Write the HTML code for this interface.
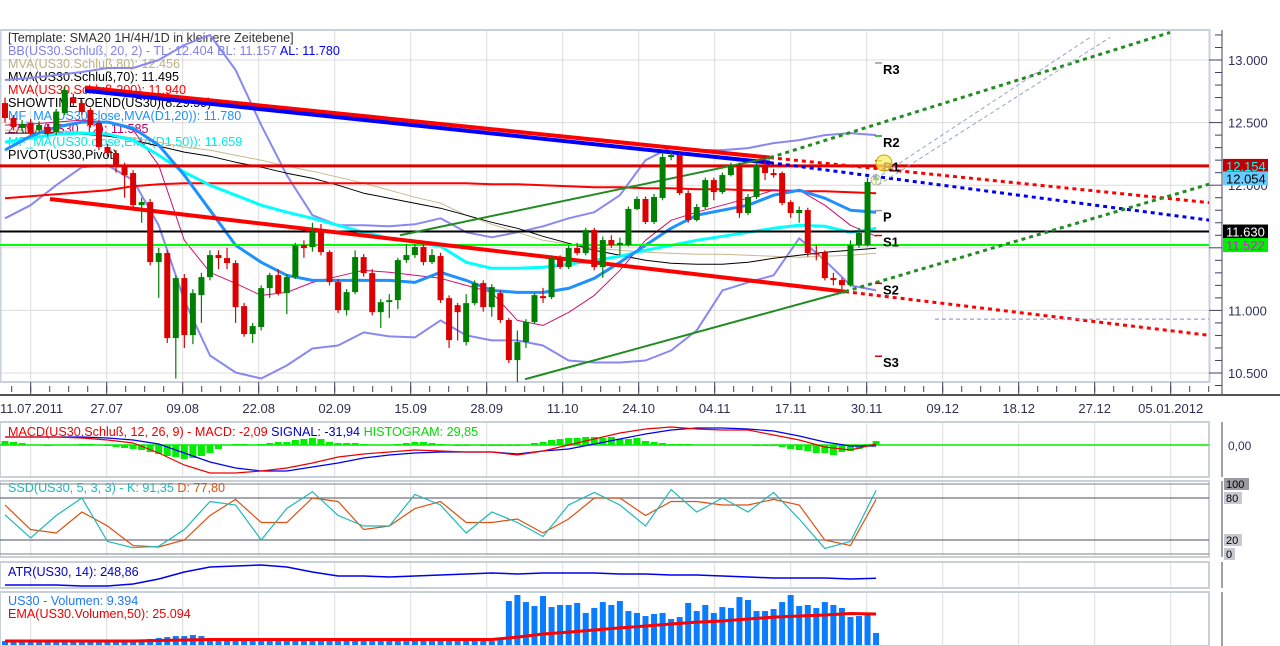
<!DOCTYPE html>
<html><head><meta charset="utf-8"><style>
html,body{margin:0;padding:0;background:#fff;width:1280px;height:646px;overflow:hidden}
svg{display:block;font-family:"Liberation Sans","DejaVu Sans",sans-serif}
</style></head><body>
<svg id="chart" width="1280" height="646" viewBox="0 0 1280 646" xmlns="http://www.w3.org/2000/svg"></svg>
<script>
// ---------- DATA ----------
const dateLabels = ["11.07.2011","27.07","09.08","22.08","02.09","15.09","28.09","11.10","24.10","04.11","17.11","30.11","09.12","18.12","27.12","05.01.2012"];
const priceTicks = [13000,12500,11000,10500];
const openP  = [12656,12537,12457,12497,12441,12465,12425,12577,12704,12656,12600,12497,12305,12257,12161,12097,11841,11865,11386,11458,10779,11258,10803,11122,11266,11442,11418,11378,11034,10811,10867,11178,11282,11138,11266,11522,11506,11626,11466,11226,11002,11146,11426,11298,10986,11066,11082,11402,11442,11506,11386,11434,11098,11042,10747,11058,11218,11026,11138,10923,10603,10747,10907,11114,11106,11418,11346,11498,11458,11642,11346,11562,11522,11522,11810,11890,11706,11898,12225,12241,11937,11722,11826,12041,11945,12081,12161,11778,11906,12145,12097,12097,11865,11778,11802,11458,11466,11258,11242,11202,11522,11522,12041];
const closeP = [12537,12465,12489,12417,12481,12417,12585,12760,12656,12585,12481,12305,12257,12161,12081,11841,11865,11386,11458,10779,11258,10803,11138,11266,11442,11418,11378,11026,10811,10875,11178,11282,11138,11266,11522,11498,11626,11466,11226,11002,11146,11426,11298,10986,11066,11082,11402,11442,11506,11386,11442,11082,10763,10986,11058,11218,11026,11186,10923,10603,10747,10907,11122,11098,11418,11346,11498,11458,11642,11346,11562,11522,11540,11810,11890,11706,11906,12225,12241,11937,11722,11826,12041,11945,12081,12161,11778,11906,12161,12097,12081,11858,11778,11802,11458,11450,11258,11242,11202,11522,11618,12025,12057];
const highP  = [12700,12560,12520,12530,12510,12490,12610,12790,12730,12680,12620,12520,12330,12280,12180,12120,11900,11890,11500,11480,11280,11290,11170,11300,11480,11480,11500,11400,11060,10900,11200,11300,11330,11290,11540,11560,11700,11690,11480,11250,11170,11480,11450,11330,11090,11130,11420,11530,11530,11530,11490,11460,11120,11060,11130,11240,11240,11210,11160,10940,10840,10930,11140,11180,11440,11440,11520,11540,11660,11660,11590,11600,11580,11830,11910,11910,11930,12260,12270,12260,11960,11850,12060,12060,12100,12180,12180,11930,12180,12240,12130,12110,11880,11830,11820,11520,11480,11300,11260,11560,11660,12060,12090];
const lowP   = [12500,12440,12430,12400,12420,12390,12400,12560,12630,12560,12460,12280,12230,12100,11900,11820,11700,11360,11100,10740,10456,10700,10730,10900,11240,11330,11330,10900,10790,10740,10840,11100,11120,10970,11250,11420,11470,11440,11200,10980,10960,11130,11270,10960,10860,10940,11010,11380,11420,11360,11370,11060,10700,10760,10720,11040,10990,10950,10900,10580,10424,10700,10890,11060,11090,11330,11330,11440,11440,11320,11260,11500,11440,11510,11800,11690,11690,11880,12200,11920,11700,11710,11810,11880,11930,12070,11740,11760,11890,12040,12060,11840,11740,11700,11430,11400,11240,11200,11170,11190,11500,11510,12010];
// indicator series sampled every 3 candles
const bbUpper = [12840,12856,12880,12904,12936,12936,13000,13120,13200,12920,12480,12080,11760,11680,11680,11672,11688,11736,11624,11584,11624,11672,11736,11784,11920,12200,12304,12280,12280,12296,12336,12360,12400,12416,12400];
const bbLower = [11736,11840,12000,12144,12160,12040,11680,11080,10640,10504,10456,10560,10696,10720,10824,10792,10784,10920,10800,10760,10760,10720,10600,10584,10584,10600,10680,10840,11160,11224,11280,11576,11400,11200,11160];
const ma20D1  = [12280,12392,12464,12504,12504,12456,12320,12080,11800,11520,11384,11280,11240,11240,11240,11240,11224,11304,11240,11160,11144,11144,11176,11256,11384,11520,11656,11760,11800,11840,11920,11960,11896,11800,11784];
const ema50D1 = [12344,12376,12408,12416,12408,12360,12240,12104,12000,11920,11840,11784,11736,11680,11624,11576,11544,11512,11384,11336,11336,11344,11368,11400,11432,11480,11520,11560,11592,11624,11656,11680,11672,11624,11656];
const mva70   = [12416,12416,12416,12408,12392,12360,12312,12264,12232,12184,12144,12096,12056,12000,11936,11896,11856,11816,11760,11704,11656,11592,11536,11480,11440,11400,11376,11368,11368,11384,11416,11440,11464,11480,11496];
const mva80   = [12440,12440,12432,12424,12408,12376,12344,12304,12280,12240,12200,12152,12112,12064,12016,11960,11904,11856,11760,11688,11624,11560,11528,11496,11480,11464,11456,11448,11448,11440,11432,11424,11432,11440,11456];
const mva200  = [11896,11912,11928,11944,11960,11992,12008,12016,12016,12016,12016,12016,12016,12016,12016,12016,12016,12016,12016,12008,12008,12000,11992,11984,11984,11976,11976,11968,11968,11960,11960,11952,11952,11944,11936];
const zama12  = [12480,12488,12504,12520,12504,12440,12160,11560,11304,11216,11120,11144,11224,11272,11320,11304,11280,11256,11200,11144,10920,10880,10984,11120,11320,11560,11720,11784,11840,11896,11960,11960,11840,11680,11592];
const macdLine   = [64,64,64,56,40,16,-64,-160,-224,-224,-208,-184,-144,-96,-72,-56,-40,-48,-56,-56,-80,-48,0,48,96,128,144,128,120,120,80,40,-16,-40,8];
const signalLine = [64,64,64,64,56,40,8,-64,-136,-184,-208,-208,-176,-144,-104,-80,-64,-56,-56,-56,-72,-48,-32,8,48,88,120,136,136,128,112,72,24,-8,-8];
const histogram  = [32,24,16,0,0,-8,0,0,0,8, 8,0,-8,-16,-24,-32,-40,-56,-72,-88, -96,-112,-104,-88,-64,-32,0,8,8,0, 8,16,24,24,40,48,56,48,24,16, 16,16,8,0,0,0,8,16,24,24, 16,8,0,-8,-8,0,-8,-8,-8,-8, -8,0,16,24,40,48,56,56,64,64, 56,64,48,48,56,32,24,16,8,8, 8,0,0,0,0,0,0,0,-8,-8, -8,-16,-32,-40,-48,-64,-64,-80,-56,-48, -32,8,32];
const stochK = [56,23,55,80,18,9,11,35,75,70,20,65,89,55,40,40,85,70,30,60,45,25,70,88,70,40,92,60,80,60,88,50,8,18,91];
const stochD = [70,35,30,60,40,12,10,20,55,78,45,45,80,75,35,40,65,75,45,45,50,30,50,80,80,55,75,75,70,70,78,70,20,12,78];
const atr = [127,127,127,109,109,145,236,364,455,473,491,455,364,291,291,273,291,309,327,345,327,345,345,345,327,327,309,309,291,273,255,255,255,236,249];
const volume = [3.1,3.1,3.1,3.1,3.1,3.1,3.1,3.1,3.1,3.1,3.1,3.1,3.1,3.1,3.1,3.1,3.9,4.7,5.5,6.2,7.0,7.0,7.8,7.0,4.7,3.9,3.1,4.7,3.9,3.1,3.1,3.1,3.1,3.1,3.1,3.1,3.1,3.1,3.1,3.1,3.9,3.9,3.1,3.1,4.7,5.5,3.1,3.1,3.9,3.1,3.1,3.9,3.1,3.1,3.9,3.1,3.1,3.1,4.7,
34.3,39.0,33.5,30.4,38.2,29.6,31.2,31.2,32.8,25.0,28.9,33.5,31.2,34.3,26.5,25.0,22.6,24.2,25.0,20.3,21.8,32.8,26.5,31.2,25.0,29.6,28.9,37.4,35.1,26.5,26.5,28.1,33.5,39.0,30.4,31.2,28.9,33.5,31.2,28.9,21.8,22.6,24.2,9.4];
const volEma = [3.1,3.1,3.1,3.1,3.1,3.1,3.5,3.9,4.3,4.3,4.3,4.3,4.3,4.3,4.3,4.3,4.3,4.3,4.3,4.3,6.2,8.6,10.1,11.7,13.3,14.8,16.4,17.9,18.7,20.3,21.8,22.6,23.4,24.6,24.2];
const pivotNames = ["R3","R2","R1","P","S1","S2","S3"];
const pivotVals  = [12976,12393,12196,11797,11598,11216,10634];
const pivotColors = ["#999","#0a0","#0a0","#999","#d00","#d00","#d00"];

// ---------- AXES ----------
const NS="http://www.w3.org/2000/svg";
const svg=document.getElementById('chart');
function el(tag,attrs,parent){const e=document.createElementNS(NS,tag);for(const k in attrs)e.setAttribute(k,attrs[k]);(parent||svg).appendChild(e);return e;}
const xC=i=>5+i*8.54;
const xS=k=>xC(k*3);
const xD=k=>30.7+76*k;
const yP=p=>60+(13000-p)*0.1252;
const yM=v=>445-v/8;
const yK=v=>554-v*0.7;
const yA=v=>592-v*0.055;
const yV=v=>645-v/0.78;
const PLOT_R=1209;

const defs=el('defs',{});
const cp=el('clipPath',{id:'mainclip'},defs);el('rect',{x:0,y:30,width:PLOT_R,height:352},cp);

const gMain=el('g',{});

dateLabels.forEach((d,k)=>{
  const l=el('line',{x1:xD(k),x2:xD(k),y1:30,y2:382,stroke:'#dcdcdc','stroke-width':1},gMain);
  
});
[13000,12500,12000,11500,11000,10500].forEach(p=>{
  const l=el('line',{x1:0,x2:PLOT_R,y1:yP(p),y2:yP(p),stroke:'#dcdcdc','stroke-width':1},gMain);
  
});
const frame=el('rect',{x:0.5,y:30,width:PLOT_R,height:352,fill:'none',stroke:'#c8d0dc','stroke-width':2});


const legend=[
 [["[Template: SMA20 1H/4H/1D in kleinere Zeitebene]","#333"]],
 [["BB(US30.Schluß, 20, 2) -  TL: 12.404  BL: 11.157  ","#8080ee"],["AL: 11.780","#0000ff"]],
 [["MVA(US30.Schluß,80): 12.456","#bbb080"]],
 [["MVA(US30.Schluß,70): 11.495","#000"]],
 [["MVA(US30.Schluß,200): 11.940","#f00"]],
 [["SHOWTIMETOEND(US30)(8:29:59)","#000"]],
 [["MF_MA(US30.close,MVA(D1,20)): 11.780","#1e90ff"]],
 [["ZAMA(US30, 12): 11.585","#c00060"]],
 [["MF_MA(US30.close,EMA(D1,50)): 11.659","#00e8e8"]],
 [["PIVOT(US30,Pivot)","#000"]]
];
legend.forEach((parts,i)=>{
  const t=el('text',{x:8,y:42+i*13,'font-size':12.6});
  
  parts.forEach(p=>{const s=el('tspan',{fill:p[1]},t);s.textContent=p[0];});
});

const gPlot=el('g',{'clip-path':'url(#mainclip)'});

function series(arr,color,w,name){
  const pts=arr.map((v,k)=>xS(k).toFixed(1)+','+yP(v).toFixed(1)).join(' ');
  const pl=el('polyline',{points:pts,fill:'none',stroke:color,'stroke-width':w,'stroke-linejoin':'round'},gPlot);
  
}
series(bbUpper,'#8888f0',2,'bollinger-upper');
series(bbLower,'#8888f0',2,'bollinger-lower');
series(mva80,'#c8b890',1,'mva-80-line');
series(mva70,'#000',1,'mva-70-line');
series(mva200,'#f00',2,'mva-200-line');
series(zama12,'#d01070',1,'zama-line');
series(ema50D1,'#00ffff',3,'ema-50-d1-line');
series(ma20D1,'#1e90ff',3,'mva-20-d1-line');

[[12154,'#e00000',3,'level-12154'],[11630,'#000',2,'level-11630'],[11522,'#00ff00',2,'level-11522']].forEach(h=>{
  const l=el('line',{x1:0,x2:PLOT_R,y1:yP(h[0]),y2:yP(h[0]),stroke:h[1],'stroke-width':h[2]},gPlot);
  
});

function tline(x1,p1,x2,p2,color,w,dash,name){
  const a={x1:x1,y1:yP(p1),x2:x2,y2:yP(p2),stroke:color,'stroke-width':w};
  if(dash)a['stroke-dasharray']=dash;
  const l=el('line',a,gPlot);
}
tline(85,12780,770,12220,'#ff0000',4,null,'resistance-trendline');
tline(770,12220,1210,11860,'#ff0000',3,'4,4','resistance-trendline-extension');
tline(85,12755,770,12180,'#0000ff',4,null,'resistance-trendline-2');
tline(770,12180,1210,11720,'#0000ee',3,'4,4','resistance-trendline-2-extension');
tline(50,11890,845,11150,'#ff0000',4,null,'lower-red-trendline');
tline(845,11150,1210,10800,'#ff0000',3,'4,4','lower-red-trendline-extension');
tline(400,11600,770,12220,'#228b22',2,null,'upper-channel-line');
tline(770,12220,1170,13220,'#228b22',3,'4,4','upper-channel-extension');
tline(525,10450,845,11150,'#228b22',2,null,'lower-channel-line');
tline(845,11150,1210,12010,'#228b22',3,'4,4','lower-channel-extension');
tline(870,12020,1090,13180,'#9aa0c8',1,'4,3','fib-line-a');
tline(878,12000,1110,13180,'#9aa0c8',1,'4,3','fib-line-b');
tline(935,10930,1210,10930,'#8888cc',1,'4,3','dashed-horizontal');

closeP.forEach((c,i)=>{
  const o=openP[i],up=c>=o,col=up?'#008000':'#dd0000';
  const g=el('g',{},gPlot);
  
  el('line',{x1:xC(i),x2:xC(i),y1:yP(highP[i]),y2:yP(lowP[i]),stroke:col,'stroke-width':1.2},g);
  const top=yP(Math.max(o,c)),bot=yP(Math.min(o,c));
  el('rect',{x:xC(i)-3,y:top,width:6,height:Math.max(1.5,bot-top),fill:col},g);
});

pivotNames.forEach((n,k)=>{
  const y=yP(pivotVals[k]);
  const m=el('line',{x1:875,x2:882,y1:y,y2:y,stroke:pivotColors[k],'stroke-width':1.5});
  
  const t=el('text',{x:883,y:y+11,'font-size':13,'font-weight':'bold',fill:'#000'});
  t.textContent=n;
});
const c1=el('circle',{cx:884,cy:163,r:8,fill:'#ffee66','fill-opacity':0.75,stroke:'#cca000','stroke-width':1});

const c2=el('circle',{cx:876,cy:180,r:5,fill:'#ffffcc','fill-opacity':0.6,stroke:'#bbb','stroke-width':1});


const ax=el('line',{x1:1222,x2:1222,y1:30,y2:394,stroke:'#404060','stroke-width':1});

for(let p=10400;p<=13200;p+=100){
  const y=yP(p);if(y<32||y>390)continue;
  const major=p%500===0;
  const tk=el('line',{x1:major?1209:1215,x2:1222,y1:y,y2:y,stroke:'#404060','stroke-width':1});
  
}
priceTicks.concat([12000]).forEach(p=>{
  const t=el('text',{x:1228,y:yP(p)+5,'font-size':13,fill:'#303060'});
  t.textContent=(p/1000).toFixed(3);
});
[[12154,'#c00000','#00ffff'],[12054,'#66ccff','#000'],[11630,'#000','#fff'],[11522,'#00ee00','#ff00ff']].forEach(b=>{
  const y=yP(b[0]);
  const r=el('rect',{x:1223,y:y-7,width:45,height:14,fill:b[1]});
  
  const t=el('text',{x:1226,y:y+5,'font-size':13,fill:b[2]});
  t.textContent=(b[0]/1000).toFixed(3);
});

for(let x=11.7;x<1222;x+=19){
  const tk=el('line',{x1:x,x2:x,y1:386,y2:392,stroke:'#404060','stroke-width':1});
  
}
dateLabels.forEach((d,k)=>{
  const tk=el('line',{x1:xD(k),x2:xD(k),y1:382,y2:394,stroke:'#404060','stroke-width':1});
  
  const t=el('text',{x:k===0?0:xD(k),y:413,'font-size':13,fill:'#303050','text-anchor':k===0?'start':'middle'});
  t.textContent=d;
});
const sep=el('line',{x1:0,x2:1280,y1:395,y2:395,stroke:'#555','stroke-width':2});


function panel(y1,y2,name){
  const g=el('g',{});
  dateLabels.forEach((d,k)=>{el('line',{x1:xD(k),x2:xD(k),y1:y1,y2:y2,stroke:'#dcdcdc','stroke-width':1},g);});
  el('rect',{x:0,y:y1,width:PLOT_R,height:y2-y1,fill:'none',stroke:'#c8d0d8','stroke-width':2},g);
  el('line',{x1:1222,x2:1222,y1:y1,y2:y2,stroke:'#404060','stroke-width':1},g);
  return g;
}
panel(422,477,'macd-panel');panel(481,557,'stochastic-panel');panel(562,588,'atr-panel');panel(592,646,'volume-panel');

const zl=el('line',{x1:0,x2:PLOT_R,y1:445,y2:445,stroke:'#00ee00','stroke-width':1.5});

histogram.forEach((v,i)=>{
  const y=yM(v);
  const r=el('rect',{x:xC(i)-3.5,y:Math.min(y,445),width:7,height:Math.max(0.5,Math.abs(y-445)),fill:'#00ee00'});
  
});
function sub(arr,fy,color,w,name){
  const pts=arr.map((v,k)=>xS(k).toFixed(1)+','+fy(v).toFixed(1)).join(' ');
  const pl=el('polyline',{points:pts,fill:'none',stroke:color,'stroke-width':w});
  
}
sub(signalLine,yM,'#0000ee',1.2,'macd-signal-line');
sub(macdLine,yM,'#ee0000',1.2,'macd-line');
const mt=el('text',{x:8,y:436,'font-size':12.6});

[["MACD(US30.Schluß, 12, 26, 9) -  MACD: -2,09  ","#e00"],["SIGNAL: -31,94  ","#00c"],["HISTOGRAM: 29,85","#0d0"]].forEach(p=>{const s=el('tspan',{fill:p[1]},mt);s.textContent=p[0];});
const ml=el('text',{x:1228,y:450,'font-size':12,fill:'#303060'});ml.textContent='0,00';


[[100,'#999'],[80,'#707080'],[20,'#707080'],[0,'#999']].forEach(l=>{
  const ln=el('line',{x1:0,x2:PLOT_R,y1:yK(l[0]),y2:yK(l[0]),stroke:l[1],'stroke-width':1.2});
  
  const w=String(l[0]).length*7+4;
  const r=el('rect',{x:1224,y:yK(l[0])-6,width:w,height:12,fill:l[0]===100?'#9a9aa0':'#c8c8d0'});
  
  const t=el('text',{x:1226,y:yK(l[0])+4,'font-size':11,fill:'#000'});t.textContent=l[0];
  
});
sub(stochD,yK,'#e05010',1.2,'stochastic-d-line');
sub(stochK,yK,'#20b8b8',1.2,'stochastic-k-line');
const st=el('text',{x:8,y:492,'font-size':12.6});

[["SSD(US30, 5, 3, 3) -  K: 91,35  ","#20b8b8"],["D: 77,80","#e05010"]].forEach(p=>{const s=el('tspan',{fill:p[1]},st);s.textContent=p[0];});

sub(atr,yA,'#0000ee',1.5,'atr-line');
const at=el('text',{x:8,y:576,'font-size':12.6,fill:'#0000cc'});at.textContent='ATR(US30, 14): 248,86';


volume.forEach((v,i)=>{
  const y=yV(v);
  const r=el('rect',{x:xC(i)-3,y:y,width:6,height:645-y,fill:'#0a7cff'});
  
});
sub(volEma,yV,'#ff0000',3,'volume-ema-line');
const vt=el('text',{x:8,y:605,'font-size':12.6,fill:'#1e78ff'});vt.textContent='US30 - Volumen: 9.394';

const vt2=el('text',{x:8,y:618,'font-size':12.6,fill:'#e00'});vt2.textContent='EMA(US30.Volumen,50): 25.094';

</script>
</body></html>
